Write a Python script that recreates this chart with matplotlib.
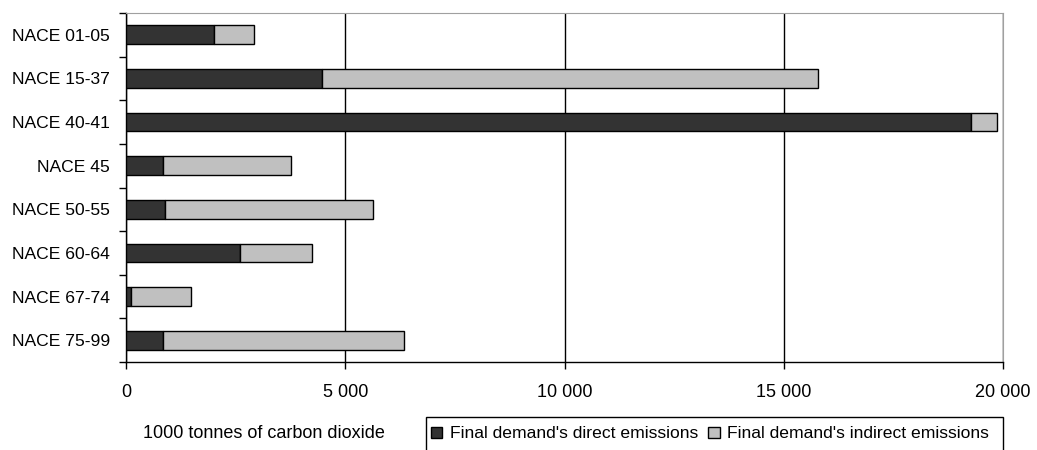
import matplotlib.pyplot as plt
from matplotlib.patches import Rectangle
from matplotlib.ticker import FuncFormatter
import numpy as np

plt.rcParams['font.family'] = ['Liberation Sans', 'DejaVu Sans']

categories = ['NACE 01-05', 'NACE 15-37', 'NACE 40-41', 'NACE 45',
              'NACE 50-55', 'NACE 60-64', 'NACE 67-74', 'NACE 75-99']
direct = [2000, 4460, 19260, 840, 880, 2590, 110, 840]
indirect = [930, 11310, 600, 2920, 4760, 1650, 1370, 5510]
xticks = [0, 5000, 10000, 15000, 20000]

fig = plt.figure(figsize=(10.37, 4.5), dpi=100)
ax = fig.add_axes([126 / 1037, 88 / 450, 877 / 1037, 349 / 450])

y = np.arange(len(categories))
ax.barh(y, direct, height=0.43, color='#333333', edgecolor='black', linewidth=1,
        label="Final demand's direct emissions", zorder=3)
ax.barh(y, indirect, left=direct, height=0.43, color='#c0c0c0', edgecolor='black',
        linewidth=1, label="Final demand's indirect emissions", zorder=3)

ax.set_ylim(len(categories) - 0.5, -0.5)
ax.set_xlim(0, 20000)
ax.set_yticks(y)
ax.set_yticklabels(categories, fontsize=12.6)
ax.set_yticks(np.arange(-0.5, len(categories)), minor=True)
ax.tick_params(axis='y', which='major', length=0, pad=11.5)
ax.tick_params(axis='y', which='minor', length=5, width=1, direction='out')

ax.set_xticks(xticks)
ax.xaxis.set_major_formatter(FuncFormatter(lambda v, p: f"{int(v):,}".replace(",", " ")))
ax.tick_params(axis='x', length=5, width=1, direction='out', pad=11, labelsize=13)

ax.grid(axis='x', color='black', linewidth=1, zorder=1)
ax.set_axisbelow(True)
for s in ['top', 'right']:
    ax.spines[s].set_color('#a0a0a0')
for s in ['left', 'bottom']:
    ax.spines[s].set_color('black')
    ax.spines[s].set_linewidth(1)

fig.text(264 / 1037, 1 - 434 / 450, '1000 tonnes of carbon dioxide', fontsize=13,
         ha='center', va='center')

fig.patches.append(Rectangle((426 / 1037, -0.1), 577 / 1037, 0.1 + 33 / 450,
                             transform=fig.transFigure, facecolor='white',
                             edgecolor='black', linewidth=1))
fig.legend(loc='center left', bbox_to_anchor=(431 / 1037, 1 - 434 / 450), ncol=2,
           frameon=False, fontsize=12.6, handlelength=0.65, handleheight=0.65,
           handletextpad=0.45, columnspacing=0.55, borderpad=0, borderaxespad=0)

fig.savefig('out.png', dpi=100)
